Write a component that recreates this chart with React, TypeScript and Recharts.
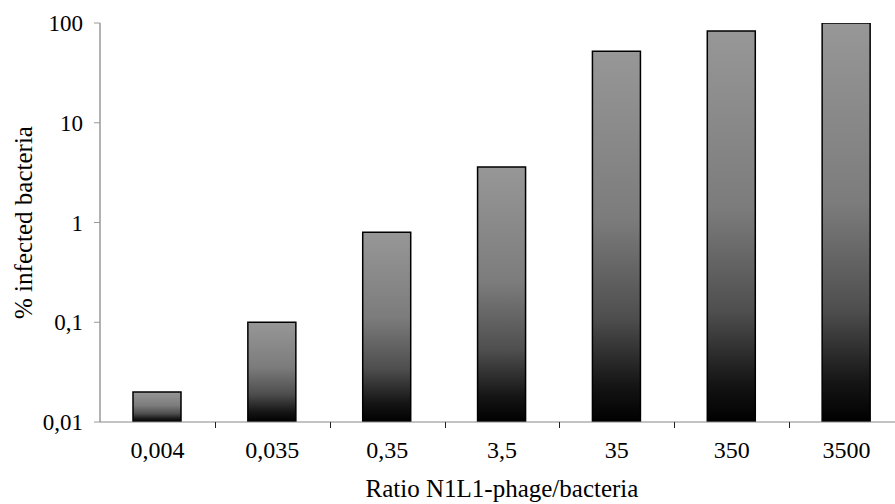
import React from 'react';
import { BarChart, Bar, XAxis, YAxis, Label } from 'recharts';

// ratio phage / bacteria (x categories)
const ratios = ['0,004', '0,035', '0,35', '3,5', '35', '350', '3500'];
// % infected bacteria (log scale)
const infected = [0.02, 0.1, 0.8, 3.6, 52, 83, 100];
const yTicks = [0.01, 0.1, 1, 10, 100];

const data = ratios.map((r, i) => ({ ratio: r, value: infected[i] }));

const font = '"Liberation Serif", "Times New Roman", serif';

const fmt = (v: number) => String(v).replace('.', ',');

// category label plus a small tick at the right boundary of the category
const CategoryTick = (props: any) => {
  const { x, y, payload, width } = props;
  const idx = ratios.indexOf(payload.value);
  const half = payload.offset || (width ? width / (2 * ratios.length) : 57);
  const axisY = y - 18;
  const tx = Math.round(x + half) + 0.5;
  return (
    <g>
      {idx < ratios.length - 1 && (
        <line
          x1={tx}
          x2={tx}
          y1={axisY}
          y2={axisY + 6}
          stroke="#222"
          strokeWidth={1}
        />
      )}
      <text
        x={x}
        y={y}
        dy={18}
        textAnchor="middle"
        style={{ fill: '#000', fontSize: 24, fontFamily: font }}
      >
        {payload.value}
      </text>
    </g>
  );
};

export default function App() {
  return (
    <div
      style={{
        position: 'absolute',
        left: 0,
        top: 0,
        width: 895,
        height: 504,
        overflow: 'hidden',
        background: '#fff',
      }}
    >
      <BarChart
        width={904}
        height={504}
        data={data}
        margin={{ top: 23, right: 0, bottom: 2, left: 0 }}
      >
        <defs>
          <linearGradient id="barFill" x1="0" y1="0" x2="0" y2="1">
            <stop offset="0%" stopColor="#979797" />
            <stop offset="45%" stopColor="#7c7c7c" />
            <stop offset="72%" stopColor="#4e4e4e" />
            <stop offset="90%" stopColor="#151515" />
            <stop offset="100%" stopColor="#000" />
          </linearGradient>
        </defs>
        <XAxis
          dataKey="ratio"
          axisLine={{ stroke: '#888' }}
          tickLine={false}
          tickSize={6}
          tickMargin={12}
          height={80}
          tick={<CategoryTick />}
        >
          <Label
            value="Ratio N1L1-phage/bacteria"
            position="insideBottom"
            offset={5}
            style={{ fill: '#000', fontSize: 25, fontFamily: font }}
          />
        </XAxis>
        <YAxis
          scale="log"
          type="number"
          domain={[0.01, 100]}
          ticks={yTicks}
          allowDataOverflow
          width={100}
          tickFormatter={fmt}
          axisLine={{ stroke: '#666' }}
          tickLine={{ stroke: '#999' }}
          tickSize={6}
          tickMargin={11}
          tick={{ fill: '#000', fontSize: 23, fontFamily: font }}
        >
          <Label
            content={({ viewBox }: any) => {
              const cy = viewBox.y + viewBox.height / 2;
              return (
                <text
                  x={23}
                  y={cy}
                  transform={`rotate(-90, 23, ${cy})`}
                  textAnchor="middle"
                  dominantBaseline="central"
                  style={{ fill: '#000', fontSize: 25, fontFamily: font }}
                >
                  % infected bacteria
                </text>
              );
            }}
          />
        </YAxis>
        <Bar
          dataKey="value"
          barSize={48}
          fill="url(#barFill)"
          stroke="#000"
          strokeWidth={1.5}
          isAnimationActive={false}
        />
      </BarChart>
    </div>
  );
}
